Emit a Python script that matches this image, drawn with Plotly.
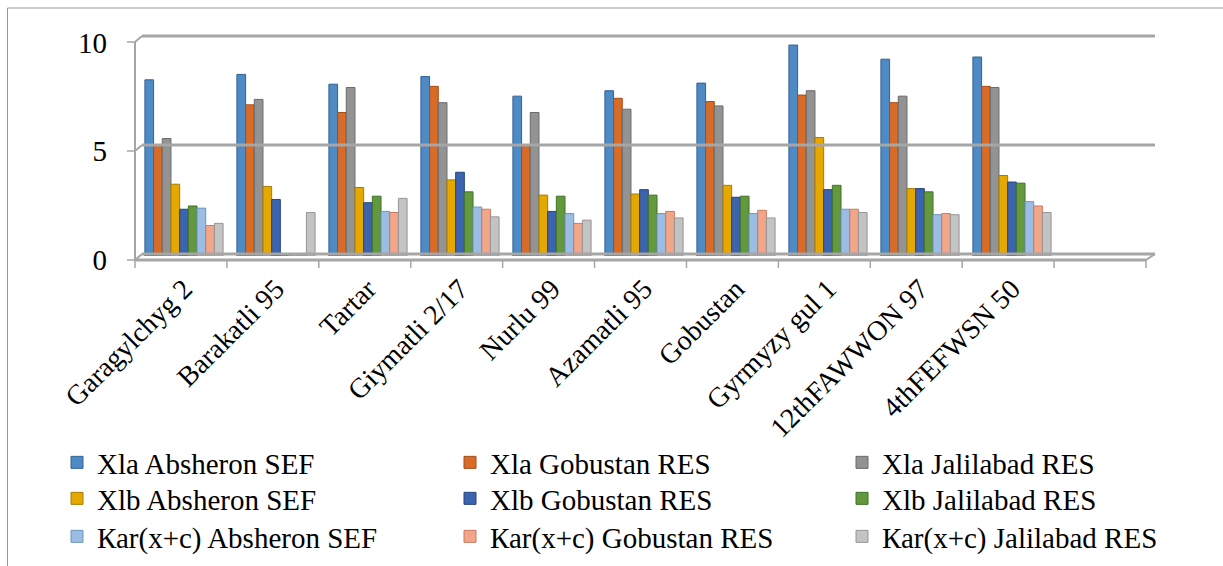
import plotly.graph_objects as go

# Varieties (the 11th slot on the axis is left empty)
varieties = ["Garagylchyg 2", "Barakatli 95", "Tartar", "Giymatli 2/17", "Nurlu 99",
             "Azamatli 95", "Gobustan", "Gyrmyzy gul 1", "12thFAWWON 97", "4thFEFWSN 50"]

xla_absheron = [8.1, 8.35, 7.9, 8.25, 7.35, 7.6, 7.95, 9.7, 9.05, 9.15]
xla_gobustan = [5.1, 6.95, 6.6, 7.8, 5.1, 7.25, 7.1, 7.4, 7.05, 7.8]
xla_jalilabad = [5.4, 7.2, 7.75, 7.05, 6.6, 6.75, 6.9, 7.6, 7.35, 7.75]
xlb_absheron = [3.3, 3.2, 3.15, 3.5, 2.8, 2.85, 3.25, 5.45, 3.1, 3.7]
xlb_gobustan = [2.15, 2.6, 2.45, 3.85, 2.05, 3.05, 2.7, 3.05, 3.1, 3.4]
xlb_jalilabad = [2.3, 0.05, 2.75, 2.95, 2.75, 2.8, 2.75, 3.25, 2.95, 3.35]
kar_absheron = [2.2, 0.05, 2.05, 2.25, 1.95, 1.95, 1.95, 2.15, 1.9, 2.5]
kar_gobustan = [1.4, 0.05, 2.0, 2.15, 1.5, 2.05, 2.1, 2.15, 1.95, 2.3]
kar_jalilabad = [1.5, 2.0, 2.65, 1.8, 1.65, 1.75, 1.75, 2.0, 1.9, 2.0]

series_names = ["Xla Absheron SEF", "Xla Gobustan RES", "Xla Jalilabad RES",
                "Xlb Absheron SEF", "Xlb Gobustan RES", "Xlb Jalilabad RES",
                "Каr(x+c) Absheron SEF", "Каr(x+c) Gobustan RES", "Каr(x+c) Jalilabad RES"]
series_values = [xla_absheron, xla_gobustan, xla_jalilabad,
                 xlb_absheron, xlb_gobustan, xlb_jalilabad,
                 kar_absheron, kar_gobustan, kar_jalilabad]
fill_colors = ["#4E8AC4", "#D96B29", "#939393", "#E5A800", "#3B63AE",
               "#62993D", "#9CBDE3", "#F1A68A", "#C3C3C3"]
edge_colors = ["#2F6296", "#A54C17", "#6A6A6A", "#A87C00", "#24447E",
               "#42712A", "#6E93BF", "#C97A5E", "#969696"]

y_max = 10.3
W, H = 1223, 566
M_L, M_R, M_T, M_B = 138, 73, 32, 310
PW, PH = W - M_L - M_R, H - M_T - M_B
FONT = "Liberation Serif"


def px(x):
    return (x - M_L) / PW


def py(y):
    return (H - M_B - y) / PH


# one legend box per entry, laid out as a 3 x 3 grid
legend_cols = [57, 450, 842]
legend_rows = [437, 473, 511]
legend_ids = ["legend"] + [f"legend{i}" for i in range(2, 10)]

fig = go.Figure()
for name, vals, fc, ec, lg in zip(series_names, series_values, fill_colors,
                                  edge_colors, legend_ids):
    fig.add_trace(go.Bar(
        x=varieties, y=vals, name=name, legend=lg,
        marker=dict(color=fc, line=dict(color=ec, width=1)),
    ))

# 3-D frame: back wall gridlines, side axis, floor slab and category ticks
frame = "#A6A6A6"
shapes = []


def seg(x0, y0, x1, y1, w=2.5, c=frame):
    shapes.append(dict(type="line", xref="paper", yref="paper",
                       x0=px(x0), y0=py(y0), x1=px(x1), y1=py(y1),
                       line=dict(color=c, width=w)))


unit = 21.8
back_x0, back_x1 = 142, 1155
front_x0, front_x1 = 135, 1146
back_zero, front_zero = 254, 260
for v in (5, 10):
    yb = back_zero - v * unit
    yf = front_zero - v * unit
    seg(back_x0, yb, back_x1, yb, w=3)
    seg(127, yf, front_x0, yf, w=1.5)
    seg(front_x0, yf, back_x0, yb, w=2)
# floor
seg(back_x0, back_zero, back_x1, back_zero, w=3)
seg(front_x0, front_zero, front_x1, front_zero, w=3)
seg(front_x1, front_zero, back_x1, back_zero, w=2)
seg(front_x0, front_zero, back_x0, back_zero, w=2)
seg(127, front_zero, front_x0, front_zero, w=1.5)
# side axis
seg(front_x0, front_zero - 10 * unit, front_x0, front_zero, w=2)
# category boundary ticks
step = (front_x1 - front_x0) / 11
for k in range(12):
    xk = front_x0 + k * step
    seg(xk, front_zero, xk, front_zero + 8, w=1.5)

# outer chart border
shapes.append(dict(type="rect", xref="paper", yref="paper",
                   x0=px(7.5), y0=py(8), x1=px(1240), y1=py(600),
                   line=dict(color="#9A9A9A", width=1), fillcolor="rgba(0,0,0,0)",
                   layer="below"))

legend_font = dict(family=FONT, size=29, color="black")
legend_layout = {}
for i, lg in enumerate(legend_ids):
    legend_layout[lg] = dict(
        orientation="v", x=px(legend_cols[i % 3]), xanchor="left",
        y=py(legend_rows[i // 3]), yanchor="top",
        font=legend_font, bgcolor="rgba(0,0,0,0)",
        itemclick=False, itemdoubleclick=False,
    )

fig.update_layout(
    width=W, height=H,
    margin=dict(l=M_L, r=M_R, t=M_T, b=M_B, pad=0, autoexpand=False),
    paper_bgcolor="white", plot_bgcolor="white",
    barmode="group", bargap=0.15, bargroupgap=0,
    font=dict(family=FONT, size=28, color="black"),
    showlegend=True,
    shapes=shapes,
    **legend_layout,
)
fig.update_xaxes(
    type="category", categoryorder="array", categoryarray=varieties,
    range=[-0.5, 10.5], showgrid=False, zeroline=False, showline=False,
    ticks="", tickangle=-45, tickfont=dict(family=FONT, size=28),
    ticklabelstandoff=10,
)
fig.update_yaxes(
    range=[0, y_max], tickvals=[0, 5, 10], ticktext=["0", "5", "10"],
    showgrid=False, zeroline=False, showline=False, ticks="",
    tickfont=dict(family=FONT, size=29), ticklabelstandoff=30, ticklabelshift=4,
)

fig.write_html("out.html")
